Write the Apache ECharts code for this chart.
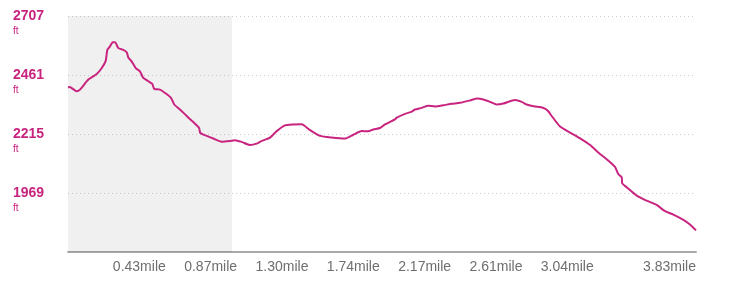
<!DOCTYPE html>
<html>
<head>
<meta charset="utf-8">
<script src="https://cdn.jsdelivr.net/npm/echarts@6/dist/echarts.min.js"></script>
<style>html,body{margin:0;padding:0;background:#fff;}#c{width:730px;height:288px;}</style>
</head>
<body>
<div id="c"></div>
<script>
// distance in miles
const distances = [0, 0.01, 0.053, 0.073, 0.124, 0.175, 0.206, 0.230, 0.240, 0.256, 0.273, 0.287, 0.307, 0.337, 0.358, 0.368, 0.388, 0.413, 0.439, 0.459, 0.490, 0.514, 0.526, 0.561, 0.592, 0.628, 0.648, 0.683, 0.724, 0.764, 0.799, 0.807, 0.846, 0.886, 0.937, 0.988, 1.018, 1.059, 1.110, 1.151, 1.181, 1.232, 1.273, 1.323, 1.374, 1.425, 1.476, 1.537, 1.608, 1.689, 1.740, 1.791, 1.831, 1.862, 1.903, 1.933, 1.994, 2.005, 2.055, 2.096, 2.116, 2.157, 2.197, 2.238, 2.289, 2.340, 2.391, 2.452, 2.496, 2.533, 2.574, 2.615, 2.655, 2.726, 2.767, 2.797, 2.848, 2.879, 2.909, 2.929, 2.950, 3.001, 3.062, 3.123, 3.184, 3.234, 3.285, 3.336, 3.356, 3.377, 3.380, 3.407, 3.468, 3.529, 3.590, 3.641, 3.692, 3.753, 3.793, 3.83];
// elevation in feet
const elevations = [2409, 2411, 2393, 2400, 2442, 2465, 2490, 2520, 2566, 2580, 2598, 2598, 2573, 2566, 2556, 2534, 2518, 2490, 2476, 2449, 2435, 2424, 2403, 2400, 2386, 2366, 2338, 2317, 2290, 2265, 2241, 2219, 2207, 2196, 2183, 2186, 2189, 2182, 2169, 2175, 2186, 2200, 2227, 2251, 2255, 2256, 2231, 2207, 2200, 2196, 2212, 2227, 2226, 2234, 2240, 2255, 2276, 2283, 2299, 2308, 2317, 2324, 2333, 2330, 2335, 2341, 2345, 2355, 2363, 2359, 2349, 2338, 2342, 2357, 2349, 2338, 2330, 2328, 2321, 2310, 2290, 2246, 2221, 2197, 2169, 2138, 2110, 2078, 2048, 2034, 2009, 1993, 1958, 1937, 1919, 1893, 1879, 1857, 1838, 1813];
// x-axis tick positions and labels
const xTickValues = [0.435, 0.87, 1.305, 1.74, 2.175, 2.61, 3.045, 3.83];
const xTickLabels = ['0.43mile', '0.87mile', '1.30mile', '1.74mile', '2.17mile', '2.61mile', '3.04mile', '3.83mile'];
// y-axis range
const yMin = 1723, yMax = 2707, yStep = 246;
const yUnit = 'ft';
// highlighted distance range (miles)
const highlightRange = [0, 1.0];

const MAG = '#c8247f';
const chart = echarts.init(document.getElementById('c'), null, {renderer: 'canvas'});
chart.setOption({
  animation: false,
  textStyle: {fontFamily: 'Liberation Sans, Arial, sans-serif'},
  grid: {left: 68, right: 34, top: 16, bottom: 36, outerBoundsMode: 'none', containLabel: false},
  xAxis: {
    type: 'value', min: 0, max: 3.83,
    axisLine: {show: true, lineStyle: {color: '#a8a8a8', width: 2}},
    axisTick: {show: false},
    splitLine: {show: false},
    axisLabel: {
      customValues: xTickValues,
      color: '#6e6e6e', fontSize: 14, margin: 8,
      alignMaxLabel: 'right',
      formatter: function (v) {
        let best = 0, bd = 1e9;
        xTickValues.forEach(function (t, i) { const d = Math.abs(t - v); if (d < bd) { bd = d; best = i; } });
        return xTickLabels[best];
      }
    }
  },
  yAxis: {
    type: 'value', min: yMin, max: yMax, interval: yStep,
    axisLine: {show: false}, axisTick: {show: false},
    splitLine: {show: true, lineStyle: {color: '#cccccc', type: [1, 3], width: 1}},
    axisLabel: {
      showMinLabel: false,
      align: 'left', margin: 55,
      formatter: function (v) { return '{b| }\n{n|' + v + '}\n{u|' + yUnit + '}'; },
      rich: {
        b: {fontSize: 10, lineHeight: 15},
        n: {fontSize: 14, fontWeight: 'bold', color: MAG, lineHeight: 16},
        u: {fontSize: 10, color: MAG, lineHeight: 15}
      }
    }
  },
  series: [{
    type: 'line',
    data: distances.map(function (d, i) { return [d, elevations[i]]; }),
    showSymbol: false,
    smooth: 0.2,
    lineStyle: {color: MAG, width: 2},
    markArea: {
      silent: true,
      itemStyle: {color: 'rgba(0,0,0,0.06)'},
      data: [[{xAxis: highlightRange[0]}, {xAxis: highlightRange[1]}]]
    }
  }]
});
</script>
</body>
</html>
